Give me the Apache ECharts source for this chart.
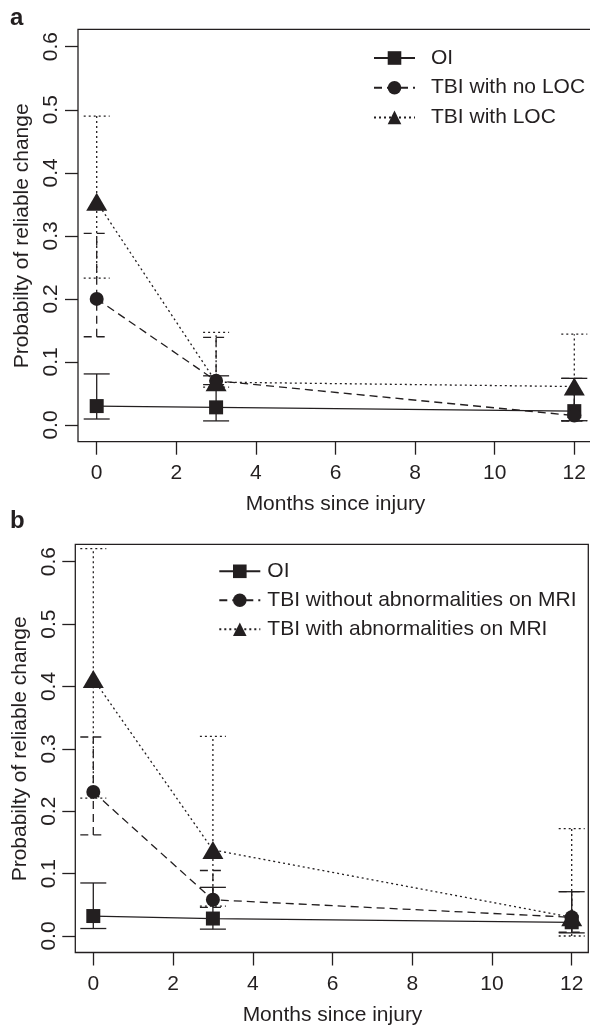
<!DOCTYPE html>
<html>
<head>
<meta charset="utf-8">
<title>Probability of reliable change</title>
<script src="https://cdn.jsdelivr.net/npm/echarts@6.0.0/dist/echarts.min.js"></script>
<style>
  html, body { margin: 0; padding: 0; background: #fff; }
  #chart { width: 590px; height: 1028px; }
</style>
</head>
<body>
<div id="chart"></div>
<script>
// ---- data ----
var months = [0, 3, 12];
var xTicks = [0, 2, 4, 6, 8, 10, 12];
var yTicks = [0, 0.1, 0.2, 0.3, 0.4, 0.5, 0.6];

// panel a
var namesA = ['OI', 'TBI with no LOC', 'TBI with LOC'];
var oiA = [0.030, 0.028, 0.022];
var oiALow = [0.0095, 0.0065, 0.0068];
var oiAHigh = [0.081, 0.078, 0.074];
var noLocA = [0.200, 0.070, 0.015];
var noLocALow = [0.140, 0.064, 0.006];
var noLocAHigh = [0.304, 0.139, 0.074];
var locA = [0.354, 0.068, 0.061];
var locALow = [0.233, 0.060, 0.007];
var locAHigh = [0.490, 0.147, 0.144];

// panel b
var namesB = ['OI', 'TBI without abnormalities on MRI', 'TBI with abnormalities on MRI'];
var oiB = [0.032, 0.028, 0.022];
var oiBLow = [0.012, 0.011, 0.005];
var oiBHigh = [0.085, 0.078, 0.071];
var noMriB = [0.231, 0.058, 0.030];
var noMriBLow = [0.162, 0.046, 0.006];
var noMriBHigh = [0.319, 0.105, 0.071];
var mriB = [0.412, 0.138, 0.030];
var mriBLow = [0.221, 0.048, 0.000];
var mriBHigh = [0.621, 0.320, 0.172];

// ---- styles / layout ----
var INK = '#231f20';
var FONT = '"Liberation Sans", Arial, Helvetica, sans-serif';
var dashes = ['solid', [8, 5], [2, 3]];
var symbols = ['rect', 'circle', 'triangle'];
var symbolSizes = [14, 14, [21, 18]];
var CAP = 13; // half width of error bar caps
var LW = 1.3;

// box edges and pixel spots of first / last tick for each panel
var layoutA = { l: 78, t: 29.3, r: 593.4, b: 441.7, x0: 96.7, x1: 574.3, y0: 425, y1: 46.7 };
var layoutB = { l: 75.3, t: 544.3, r: 588.3, b: 952.5, x0: 93.3, x1: 571.7, y0: 936, y1: 561.7 };

var grids = [], xAxes = [], yAxes = [], series = [], legends = [];

function errRender(dash) {
  return function (params, api) {
    var lo = api.coord([api.value(0), api.value(1)]);
    var hi = api.coord([api.value(0), api.value(2)]);
    var st = { stroke: INK, lineWidth: LW, fill: null, lineDash: dash === 'solid' ? null : dash };
    return {
      type: 'group',
      children: [
        { type: 'line', shape: { x1: lo[0], y1: lo[1], x2: hi[0], y2: hi[1] }, style: st },
        { type: 'line', shape: { x1: hi[0] - CAP, y1: hi[1], x2: hi[0] + CAP, y2: hi[1] }, style: st },
        { type: 'line', shape: { x1: lo[0] - CAP, y1: lo[1], x2: lo[0] + CAP, y2: lo[1] }, style: st }
      ]
    };
  };
}

var tickStyle = { inside: false, length: 13, lineStyle: { color: INK, width: LW } };
var textStyle = { color: INK, fontSize: 21, fontFamily: FONT };
var noLine = { show: false, onZero: false };

function addPanel(L, names, vals, lows, highs, leg) {
  var xmin = xTicks[0], xmax = xTicks[xTicks.length - 1];
  var ymin = yTicks[0], ymax = yTicks[yTicks.length - 1];
  var ux = (L.x1 - L.x0) / (xmax - xmin);
  var uy = (L.y0 - L.y1) / (ymax - ymin);
  var boxXMin = xmin - (L.x0 - L.l) / ux, boxXMax = xmax + (L.r - L.x1) / ux;
  var boxYMin = ymin - (L.b - L.y0) / uy, boxYMax = ymax + (L.y1 - L.t) / uy;
  var g = grids.length;

  // 0: plotting box, 1: grid carrying the month ticks, 2: grid carrying the probability ticks
  grids.push({ left: L.l, top: L.t, width: L.r - L.l, height: L.b - L.t, show: true,
    borderColor: INK, borderWidth: LW, backgroundColor: 'transparent', outerBoundsMode: 'none' });
  grids.push({ left: L.x0, top: L.t, width: L.x1 - L.x0, height: L.b - L.t, outerBoundsMode: 'none' });
  grids.push({ left: L.l, top: L.y1, width: L.r - L.l, height: L.y0 - L.y1, outerBoundsMode: 'none' });

  var ax = xAxes.length, ay = yAxes.length;
  // box
  xAxes.push({ type: 'value', gridIndex: g, show: false, min: boxXMin, max: boxXMax });
  yAxes.push({ type: 'value', gridIndex: g, show: false, min: boxYMin, max: boxYMax });
  // month ticks
  xAxes.push({
    type: 'value', gridIndex: g + 1, position: 'bottom', min: xmin, max: xmax, interval: xTicks[1] - xTicks[0],
    axisLine: noLine, splitLine: { show: false }, axisTick: tickStyle,
    axisLabel: Object.assign({ margin: 21 }, textStyle),
    name: 'Months since injury', nameLocation: 'middle', nameGap: 52, nameTextStyle: textStyle
  });
  yAxes.push({ type: 'value', gridIndex: g + 1, show: false, min: boxYMin, max: boxYMax });
  // probability ticks
  xAxes.push({ type: 'value', gridIndex: g + 2, show: false, min: boxXMin, max: boxXMax });
  yAxes.push({
    type: 'value', gridIndex: g + 2, position: 'left', min: ymin, max: ymax, interval: yTicks[1] - yTicks[0],
    axisLine: noLine, splitLine: { show: false }, axisTick: tickStyle,
    axisLabel: Object.assign({ margin: 16, rotate: 90,
      formatter: function (v) { return v.toFixed(1); } }, textStyle),
    name: 'Probabilty of reliable change', nameLocation: 'middle', nameGap: 38, nameTextStyle: textStyle
  });

  for (var i = 0; i < 3; i++) {
    series.push({
      type: 'custom', name: names[i] + ' CI', xAxisIndex: ax, yAxisIndex: ay,
      renderItem: errRender(dashes[i]), z: 1, clip: false, silent: true,
      encode: { x: 0, y: [1, 2] },
      data: months.map(function (m, j) { return [m, lows[i][j], highs[i][j]]; })
    });
  }
  for (var k = 0; k < 3; k++) {
    series.push({
      type: 'line', name: names[k], xAxisIndex: ax, yAxisIndex: ay, z: 3, clip: false,
      symbol: symbols[k], symbolSize: symbolSizes[k], showAllSymbol: true,
      itemStyle: { color: INK },
      lineStyle: { color: INK, width: LW, type: dashes[k] },
      data: months.map(function (m, j) { return [m, vals[k][j]]; })
    });
  }

  legends.push({
    data: names, orient: 'vertical', left: leg.left, top: leg.top, padding: 0,
    itemWidth: 41, itemHeight: 17, itemGap: leg.gap, selectedMode: false,
    textStyle: Object.assign({ padding: [0, 0, 0, leg.pad] }, textStyle)
  });
}

addPanel(layoutA, namesA,
  [oiA, noLocA, locA], [oiALow, noLocALow, locALow], [oiAHigh, noLocAHigh, locAHigh],
  { left: 373, top: 47.5, gap: 8.7, pad: 11 });
addPanel(layoutB, namesB,
  [oiB, noMriB, mriB], [oiBLow, noMriBLow, mriBLow], [oiBHigh, noMriBHigh, mriBHigh],
  { left: 218.3, top: 560.8, gap: 8, pad: 2 });

var chart = echarts.init(document.getElementById('chart'), null, { renderer: 'canvas' });
chart.setOption({
  backgroundColor: '#ffffff',
  animation: false,
  grid: grids,
  xAxis: xAxes,
  yAxis: yAxes,
  legend: legends,
  series: series,
  graphic: [
    { type: 'text', x: 10, y: 18, style: { text: 'a', font: 'bold 24px ' + FONT, fill: INK, verticalAlign: 'middle' } },
    { type: 'text', x: 10, y: 521, style: { text: 'b', font: 'bold 24px ' + FONT, fill: INK, verticalAlign: 'middle' } }
  ]
});
</script>
</body>
</html>
